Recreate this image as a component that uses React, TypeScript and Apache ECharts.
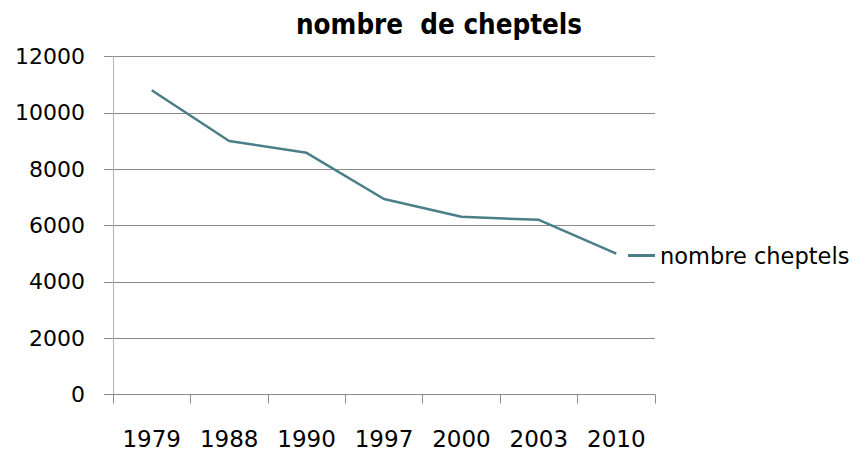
import React, { useEffect, useRef } from "react";
import * as echarts from "echarts";

const years = ["1979", "1988", "1990", "1997", "2000", "2003", "2010"];
const cheptels = [10800, 9000, 8580, 6940, 6310, 6200, 5000];
const titleText = "nombre  de cheptels";
const seriesName = "nombre cheptels";

export default function App() {
  const ref = useRef<HTMLDivElement>(null);
  useEffect(() => {
    if (!ref.current) return;
    const chart = echarts.init(ref.current, null, { renderer: "svg" });
    chart.setOption({
      animation: false,
      backgroundColor: "#ffffff",
      title: {
        text: titleText,
        left: 434,
        top: 5,
        textAlign: "center",
        textStyle: {
          fontFamily: "DejaVu Sans Condensed",
          fontWeight: "bold",
          fontSize: 27.5,
          color: "#000",
        },
      },
      legend: {
        data: [{ name: seriesName, icon: "rect" }],
        left: 628,
        top: 244,
        padding: 0,
        itemWidth: 27,
        itemHeight: 3,
        itemGap: 0,
        textStyle: { fontFamily: "DejaVu Sans", fontSize: 22.5, color: "#000" },
      },
      grid: { left: 113, right: 204, top: 56.5, bottom: 59.5, containLabel: false },
      xAxis: {
        type: "category",
        data: years,
        boundaryGap: true,
        axisLine: { lineStyle: { color: "#8c8c8c", width: 1 } },
        axisTick: { show: true, length: 9, lineStyle: { color: "#8c8c8c" } },
        axisLabel: { fontFamily: "DejaVu Sans", fontSize: 23, color: "#000", margin: 33 },
      },
      yAxis: {
        type: "value",
        min: 0,
        max: 12000,
        interval: 2000,
        axisLine: { show: true, lineStyle: { color: "#b4b4b4", width: 1 } },
        axisTick: { show: true, length: 9, lineStyle: { color: "#8c8c8c" } },
        axisLabel: {
          fontFamily: "DejaVu Sans",
          fontSize: 22,
          color: "#000",
          margin: 28,
          formatter: (v: number) => String(v),
        },
        splitLine: { show: true, lineStyle: { color: "#8c8c8c", width: 1 } },
      },
      series: [
        {
          name: seriesName,
          type: "line",
          data: cheptels,
          symbol: "none",
          lineStyle: { color: "#4a7f87", width: 2.5 },
          itemStyle: { color: "#4a7f87" },
        },
      ],
    });
    return () => chart.dispose();
  }, []);
  return <div ref={ref} style={{ width: 859, height: 454, position: "absolute", left: 0, top: 0 }} />;
}
